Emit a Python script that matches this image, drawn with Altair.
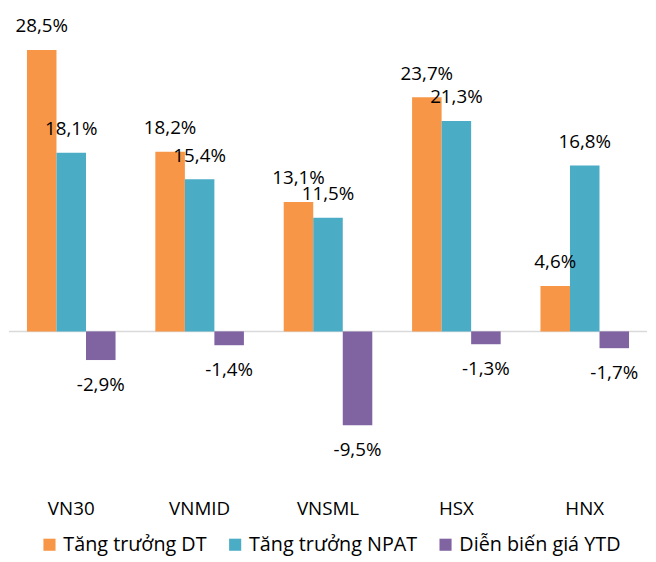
import altair as alt
import pandas as pd

categories = ["VN30", "VNMID", "VNSML", "HSX", "HNX"]
series = ["Tăng trưởng DT", "Tăng trưởng NPAT", "Diễn biến giá YTD"]
dt_growth = [28.5, 18.2, 13.1, 23.7, 4.6]
npat_growth = [18.1, 15.4, 11.5, 21.3, 16.8]
ytd_change = [-2.9, -1.4, -9.5, -1.3, -1.7]
colors = ["#F79646", "#4BACC6", "#8064A2"]

rows = []
for s, vals in zip(series, [dt_growth, npat_growth, ytd_change]):
    for c, v in zip(categories, vals):
        rows.append({"cat": c, "series": s, "value": v,
                     "label": f"{v:.1f}".replace(".", ",") + "%"})
df = pd.DataFrame(rows)

FONT = "Open Sans"
W, H = 646, 487
YS = alt.Scale(domain=[-16.3, 32.4], nice=False, zero=False)

x = alt.X("cat:N", sort=categories, title=None,
          scale=alt.Scale(paddingInner=0.31, paddingOuter=0.14),
          axis=alt.Axis(domain=False, ticks=False, labelAngle=0,
                        labelFontSize=19, labelPadding=7, labelColor="#000",
                        labelFont=FONT))
xo = alt.XOffset("series:N", sort=series,
                 scale=alt.Scale(paddingInner=0, paddingOuter=0))
y = alt.Y("value:Q", axis=None, scale=YS)

base = alt.Chart(df)

bars = base.mark_bar().encode(
    x=x, xOffset=xo, y=y, y2=alt.datum(0),
    color=alt.Color("series:N", sort=series,
                    scale=alt.Scale(domain=series, range=colors),
                    legend=alt.Legend(title=None, orient="none", direction="horizontal",
                                      legendX=31, legendY=530,
                                      symbolType="square", symbolSize=150,
                                      symbolStrokeWidth=0, symbolOpacity=1,
                                      labelFontSize=20, labelFont=FONT,
                                      labelColor="#000", columnPadding=18,
                                      labelOffset=4, labelLimit=400))
)

zero = alt.Chart(pd.DataFrame({"v": [0]})).mark_rule(color="#D9D9D9", strokeWidth=1.5).encode(
    y=alt.Y("v:Q", scale=YS, axis=None)
)

pos_labels = base.transform_filter("datum.value >= 0").mark_text(
    baseline="middle", dy=-24, fontSize=19, font=FONT, color="#000"
).encode(x=x, xOffset=xo, y=y, text="label:N")

neg_labels = base.transform_filter("datum.value < 0").mark_text(
    baseline="middle", dy=25, fontSize=19, font=FONT, color="#000"
).encode(x=x, xOffset=xo, y=y, text="label:N")

chart = alt.layer(zero, bars, pos_labels, neg_labels).properties(
    width=W, height=H, padding=0
).configure(font=FONT).configure_view(stroke=None)

chart.save("out.html", embed_options={"renderer": "svg", "actions": False})
